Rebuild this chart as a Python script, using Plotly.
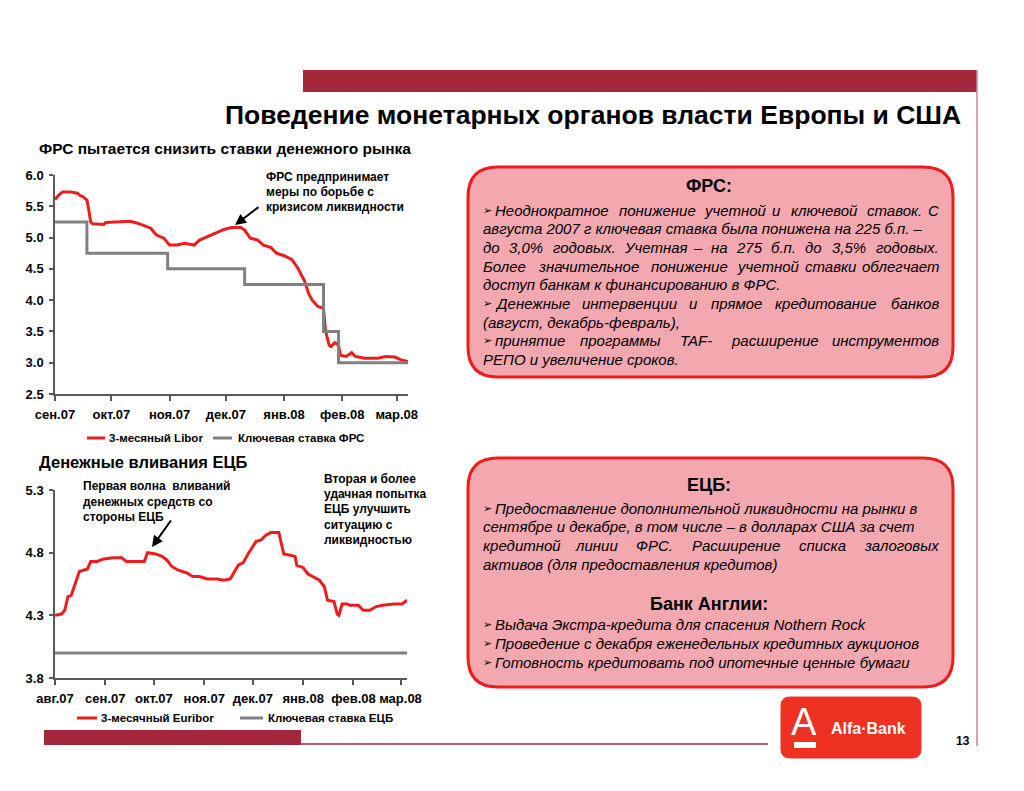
import plotly.graph_objects as go

# page body has an 8px margin: the figure is sized to the visible area and
# all layout coordinates below are window pixels
OFF = 8
W, H = 1024 - OFF, 791 - OFF


def px(x):
    return (x - OFF) / W


def py(y):
    return 1 - (y - OFF) / H


# ---------------- DATA ----------------
libor_dates = ['2007-09-01', '2007-09-03', '2007-09-05', '2007-09-09', '2007-09-13', '2007-09-14',
               '2007-09-16', '2007-09-18', '2007-09-19', '2007-09-20', '2007-09-21', '2007-09-27',
               '2007-09-28', '2007-10-04', '2007-10-11', '2007-10-15', '2007-10-18', '2007-10-22',
               '2007-10-25', '2007-10-29', '2007-11-01', '2007-11-05', '2007-11-09', '2007-11-14',
               '2007-11-17', '2007-11-21', '2007-11-26', '2007-11-30', '2007-12-04', '2007-12-09',
               '2007-12-11', '2007-12-14', '2007-12-18', '2007-12-21', '2007-12-25', '2007-12-28',
               '2008-01-01', '2008-01-05', '2008-01-08', '2008-01-12', '2008-01-14', '2008-01-16',
               '2008-01-19', '2008-01-22', '2008-01-23', '2008-01-25', '2008-01-26', '2008-01-28',
               '2008-01-30', '2008-01-31', '2008-02-03', '2008-02-06', '2008-02-08', '2008-02-13',
               '2008-02-20', '2008-02-24', '2008-02-29', '2008-03-03', '2008-03-07']
libor_vals = [5.61, 5.68, 5.73, 5.73, 5.71, 5.68,
              5.65, 5.60, 5.44, 5.25, 5.22, 5.21,
              5.24, 5.25, 5.26, 5.23, 5.20, 5.15,
              5.04, 4.99, 4.88, 4.88, 4.91, 4.88,
              4.96, 5.01, 5.07, 5.13, 5.16, 5.16,
              5.12, 4.99, 4.96, 4.88, 4.84, 4.75,
              4.71, 4.65, 4.53, 4.30, 4.11, 4.00,
              3.90, 3.87, 3.52, 3.28, 3.26, 3.32,
              3.28, 3.12, 3.10, 3.16, 3.10, 3.07,
              3.07, 3.10, 3.09, 3.05, 3.02]

fed_dates = ['2007-09-01', '2007-09-18', '2007-10-31', '2007-12-11', '2008-01-22', '2008-01-30', '2008-03-07']
fed_vals = [5.25, 4.75, 4.50, 4.25, 3.50, 3.00, 3.00]

euribor_dates = ['2007-08-01', '2007-08-05', '2007-08-07', '2007-08-09', '2007-08-11', '2007-08-13',
                 '2007-08-16', '2007-08-21', '2007-08-23', '2007-08-27', '2007-08-31', '2007-09-06',
                 '2007-09-11', '2007-09-14', '2007-09-20', '2007-09-25', '2007-09-27', '2007-10-02',
                 '2007-10-06', '2007-10-09', '2007-10-12', '2007-10-16', '2007-10-21', '2007-10-25',
                 '2007-10-29', '2007-11-03', '2007-11-09', '2007-11-13', '2007-11-17', '2007-11-19',
                 '2007-11-22', '2007-11-25', '2007-11-28', '2007-12-03', '2007-12-06', '2007-12-09',
                 '2007-12-12', '2007-12-17', '2007-12-20', '2007-12-24', '2007-12-27', '2007-12-28',
                 '2008-01-01', '2008-01-04', '2008-01-07', '2008-01-11', '2008-01-14', '2008-01-16',
                 '2008-01-20', '2008-01-22', '2008-01-23', '2008-01-25', '2008-01-28', '2008-01-30',
                 '2008-02-04', '2008-02-07', '2008-02-11', '2008-02-15', '2008-02-19', '2008-02-26',
                 '2008-03-02', '2008-03-05']
euribor_vals = [4.30, 4.31, 4.34, 4.45, 4.46, 4.54,
                4.65, 4.67, 4.73, 4.73, 4.75, 4.76,
                4.76, 4.73, 4.73, 4.73, 4.80, 4.79,
                4.77, 4.74, 4.69, 4.66, 4.64, 4.61,
                4.61, 4.59, 4.59, 4.58, 4.59, 4.63,
                4.70, 4.72, 4.79, 4.89, 4.90, 4.94,
                4.96, 4.96, 4.79, 4.78, 4.77, 4.70,
                4.68, 4.63, 4.61, 4.58, 4.53, 4.42,
                4.41, 4.31, 4.30, 4.39, 4.39, 4.38,
                4.38, 4.34, 4.34, 4.37, 4.38, 4.39,
                4.39, 4.42]

ecb_dates = ['2007-08-01', '2008-03-05']
ecb_vals = [4.0, 4.0]

top_tickvals = ['2007-09-01', '2007-10-01', '2007-11-01', '2007-12-01', '2008-01-01', '2008-02-01', '2008-03-01']
top_ticktext = ['сен.07', 'окт.07', 'ноя.07', 'дек.07', 'янв.08', 'фев.08', 'мар.08']
bot_tickvals = ['2007-08-01', '2007-09-01', '2007-10-01', '2007-11-01', '2007-12-01', '2008-01-01', '2008-02-01', '2008-03-01']
bot_ticktext = ['авг.07', 'сен.07', 'окт.07', 'ноя.07', 'дек.07', 'янв.08', 'фев.08', 'мар.08']
top_yticks = [2.5, 3.0, 3.5, 4.0, 4.5, 5.0, 5.5, 6.0]
bot_yticks = [3.8, 4.3, 4.8, 5.3]

# ---------------- STYLE ----------------
RED = '#EE1C1C'
GRAY = '#808080'
AXIS = '#595959'
DARKRED = '#A4283C'
FONT = 'Liberation Sans, Arial, sans-serif'

fig = go.Figure()
fig.add_trace(go.Scatter(x=libor_dates, y=libor_vals, mode='lines', line=dict(color=RED, width=3),
                         xaxis='x', yaxis='y', showlegend=False, hoverinfo='skip'))
fig.add_trace(go.Scatter(x=fed_dates, y=fed_vals, mode='lines', line=dict(color=GRAY, width=3, shape='hv'),
                         xaxis='x', yaxis='y', showlegend=False, hoverinfo='skip'))
fig.add_trace(go.Scatter(x=euribor_dates, y=euribor_vals, mode='lines', line=dict(color=RED, width=3),
                         xaxis='x2', yaxis='y2', showlegend=False, hoverinfo='skip'))
fig.add_trace(go.Scatter(x=ecb_dates, y=ecb_vals, mode='lines', line=dict(color=GRAY, width=3),
                         xaxis='x2', yaxis='y2', showlegend=False, hoverinfo='skip'))

tickfont = dict(family=FONT, size=13, color='black', weight='bold')
ax_common = dict(showgrid=False, zeroline=False, showline=True, linecolor=AXIS, linewidth=1.5,
                 ticks='outside', tickcolor=AXIS, ticklen=5, tickwidth=1.5, tickfont=tickfont,
                 fixedrange=True, automargin=False)

fig.update_layout(
    width=W, height=H, margin=dict(l=0, r=0, t=0, b=0, autoexpand=False),
    paper_bgcolor='white', plot_bgcolor='white', showlegend=False,
    xaxis=dict(ax_common, type='date', domain=[px(55), px(408)], range=['2007-09-01', '2008-03-07'],
               tickmode='array', tickvals=top_tickvals, ticktext=top_ticktext, anchor='y',
               ticklabelstandoff=3),
    yaxis=dict(ax_common, domain=[py(394), py(175)], range=[2.5, 6.0], tickmode='array',
               tickvals=top_yticks, tickformat='.1f', anchor='x', ticklen=4, ticklabelstandoff=3),
    xaxis2=dict(ax_common, type='date', domain=[px(55), px(407)], range=['2007-08-01', '2008-03-05'],
                tickmode='array', tickvals=bot_tickvals, ticktext=bot_ticktext, anchor='y2',
                ticklabelstandoff=3),
    yaxis2=dict(ax_common, domain=[py(678), py(490)], range=[3.8, 5.3], tickmode='array',
                tickvals=bot_yticks, tickformat='.1f', anchor='x2', ticklen=4, ticklabelstandoff=3),
)

shapes = []
annotations = []


def rect(x0, y0, x1, y1, color, layer='below'):
    shapes.append(dict(type='rect', xref='paper', yref='paper', x0=px(x0), x1=px(x1),
                       y0=py(y1), y1=py(y0), fillcolor=color, line=dict(width=0), layer=layer))


def hline(x0, x1, y, color, width):
    shapes.append(dict(type='line', xref='paper', yref='paper', x0=px(x0), x1=px(x1),
                       y0=py(y), y1=py(y), line=dict(color=color, width=width)))


def vline(x, y0, y1, color, width):
    shapes.append(dict(type='line', xref='paper', yref='paper', x0=px(x), x1=px(x),
                       y0=py(y0), y1=py(y1), line=dict(color=color, width=width)))


def rrect(x0, y0, x1, y1, r, fill, line_color, line_width):
    X, Y = px, py
    p = (f"M {X(x0 + r)},{Y(y0)} L {X(x1 - r)},{Y(y0)} Q {X(x1)},{Y(y0)} {X(x1)},{Y(y0 + r)} "
         f"L {X(x1)},{Y(y1 - r)} Q {X(x1)},{Y(y1)} {X(x1 - r)},{Y(y1)} "
         f"L {X(x0 + r)},{Y(y1)} Q {X(x0)},{Y(y1)} {X(x0)},{Y(y1 - r)} "
         f"L {X(x0)},{Y(y0 + r)} Q {X(x0)},{Y(y0)} {X(x0 + r)},{Y(y0)} Z")
    shapes.append(dict(type='path', xref='paper', yref='paper', path=p, fillcolor=fill,
                       line=dict(color=line_color, width=line_width), layer='below'))


def text(t, x, y, size, xanchor='left', weight='normal', style='normal', color='black', family=FONT):
    annotations.append(dict(text=t, xref='paper', yref='paper', x=px(x), y=py(y), xanchor=xanchor,
                            yanchor='middle', showarrow=False, borderpad=0,
                            font=dict(family=family, size=size, color=color, weight=weight, style=style)))


def arrow(hx, hy, tx, ty):
    annotations.append(dict(text='', xref='paper', yref='paper', x=px(hx), y=py(hy),
                            ax=tx - hx, ay=ty - hy, axref='pixel', ayref='pixel', showarrow=True,
                            arrowhead=2, arrowsize=1.1, arrowwidth=2, arrowcolor='black'))


# ---------------- frame ----------------
rect(303, 70, 977, 92, DARKRED)
vline(977, 70, 746, '#C48A96', 1.5)
rect(44, 730, 301, 745, DARKRED)
hline(301, 768, 744, DARKRED, 1.5)

text('Поведение монетарных органов власти Европы и США', 962, 115, 26.5, xanchor='right', weight='bold')
text('ФРС пытается снизить ставки денежного рынка', 38, 148, 15.5, weight='bold')
text('Денежные вливания ЕЦБ', 38, 462, 16.5, weight='bold')
text('13', 963, 741, 12, xanchor='center', weight='bold')

# ---------------- chart legends & notes ----------------
hline(87, 105, 438, RED, 3)
text('3-месяный Libor', 108, 438, 11.5, weight='bold')
hline(213, 232, 438, GRAY, 3)
text('Ключевая ставка ФРС', 237, 438, 11.5, weight='bold')

hline(77, 97, 718, RED, 3)
text('3-месячный Euribor', 100, 718, 11.5, weight='bold')
hline(240, 263, 718, GRAY, 3)
text('Ключевая ставка ЕЦБ', 267, 718, 11.5, weight='bold')

note1 = ['ФРС предпринимает', 'меры по борьбе с', 'кризисом ликвидности']
for i, s in enumerate(note1):
    text(s, 265, 177 + i * 15.2, 12, weight='bold')
arrow(235, 225, 260, 206)

note2 = ['Первая волна  вливаний', 'денежных средств со', 'стороны ЕЦБ']
for i, s in enumerate(note2):
    text(s, 82, 486 + i * 15.5, 12, weight='bold')
arrow(152, 547, 172, 519)

note3 = ['Вторая и более', 'удачная попытка', 'ЕЦБ улучшить', 'ситуацию с', 'ликвидностью']
for i, s in enumerate(note3):
    text(s, 323, 479 + i * 15.2, 12, weight='bold')

# ---------------- text boxes ----------------
CW = {' ': 278, '.': 278, ',': 278, '-': 333, '–': 556, '(': 333, ')': 333, '%': 889, ':': 278}
for c in '0123456789':
    CW[c] = 556
CW.update(dict(zip('абвгдежзийклмнопрстуфхцчшщъыьэюя',
                   [556, 573, 531, 365, 583, 556, 669, 458, 559, 559, 438, 583, 688, 552, 556, 542,
                    556, 500, 458, 500, 823, 500, 573, 521, 802, 823, 625, 719, 521, 510, 750, 542])))
CW.update(dict(zip('АБВГДЕЖЗИЙКЛМНОПРСТУФХЦЧШЩЪЫЬЭЮЯ',
                   [667, 656, 667, 542, 677, 667, 923, 604, 719, 719, 583, 656, 833, 722, 778, 719,
                    667, 722, 611, 635, 760, 667, 740, 667, 917, 937, 792, 875, 656, 719, 1010, 722])))
CW.update({'T': 611, 'A': 667, 'F': 611, 'N': 722, 'R': 722})

BODY = 15
TX0, TX1 = 482, 940
BUL = 12
KFIT = 1.07
SPACE = CW[' '] / 1000 * BODY * KFIT


def tw(s):
    return sum(CW.get(c, 556) for c in s) / 1000 * BODY * KFIT


def body_line(s, y, justify, bullet):
    start = TX0
    if bullet:
        text('➢', TX0, y, 11, family='DejaVu Sans')
        start = TX0 + BUL
    words = s.split(' ')
    if justify and len(words) > 1:
        widths = [tw(w) for w in words]
        gap = (TX1 - start - sum(widths)) / (len(words) - 1)
        if gap - SPACE < 2.0:
            justify = False
    if justify and len(words) > 1:
        x = start
        for i, (w, wd) in enumerate(zip(words, widths)):
            if i == 0:
                text(w, start, y, BODY, xanchor='left', style='italic')
            elif i == len(words) - 1:
                text(w, TX1, y, BODY, xanchor='right', style='italic')
            else:
                text(w, x + wd / 2, y, BODY, xanchor='center', style='italic')
            x += wd + gap
    else:
        text(s, start, y, BODY, style='italic')


BOXFILL = '#F3A8B0'
rrect(468, 167, 953, 377, 30, BOXFILL, RED, 3)
rrect(468, 458, 953, 687, 30, BOXFILL, RED, 3)

text('ФРС:', 709, 186, 18, xanchor='center', weight='bold')
frs_lines = [
    ('Неоднократное понижение учетной и ключевой ставок. С', True, True),
    ('августа 2007 г ключевая ставка была понижена на 225 б.п. –', True, False),
    ('до 3,0% годовых. Учетная – на 275 б.п. до 3,5% годовых.', True, False),
    ('Более значительное понижение учетной ставки облегчает', True, False),
    ('доступ банкам к финансированию в ФРС.', False, False),
    ('Денежные интервенции и прямое кредитование банков', True, True),
    ('(август, декабрь-февраль),', False, False),
    ('принятие программы TAF- расширение инструментов', True, True),
    ('РЕПО и увеличение сроков.', False, False),
]
for i, (s, j, b) in enumerate(frs_lines):
    body_line(s, 210 + i * 18.7, j, b)

text('ЕЦБ:', 709, 485, 18, xanchor='center', weight='bold')
ecb_lines = [
    ('Предоставление дополнительной ликвидности на рынки в', True, True),
    ('сентябре и декабре, в том числе – в долларах США за счет', True, False),
    ('кредитной линии ФРС. Расширение списка залоговых', True, False),
    ('активов (для предоставления кредитов)', False, False),
]
for i, (s, j, b) in enumerate(ecb_lines):
    body_line(s, 508 + i * 18.8, j, b)

text('Банк Англии:', 709, 604, 18, xanchor='center', weight='bold')
boe_lines = [
    'Выдача Экстра-кредита для спасения Nothern Rock',
    'Проведение с декабря еженедельных кредитных аукционов',
    'Готовность кредитовать под ипотечные ценные бумаги',
]
for i, s in enumerate(boe_lines):
    body_line(s, 624 + i * 19, False, True)

# ---------------- logo ----------------
rrect(781, 697, 921, 758, 9, '#EF3124', '#EF3124', 1)
text('A', 804, 722, 38, xanchor='center', color='white')
rect(794, 742, 816, 748, 'white', layer='above')
text('Alfa·Bank', 830, 728, 16, weight='bold', color='white')

fig.update_layout(shapes=shapes, annotations=annotations)
fig.write_html('out.html')
